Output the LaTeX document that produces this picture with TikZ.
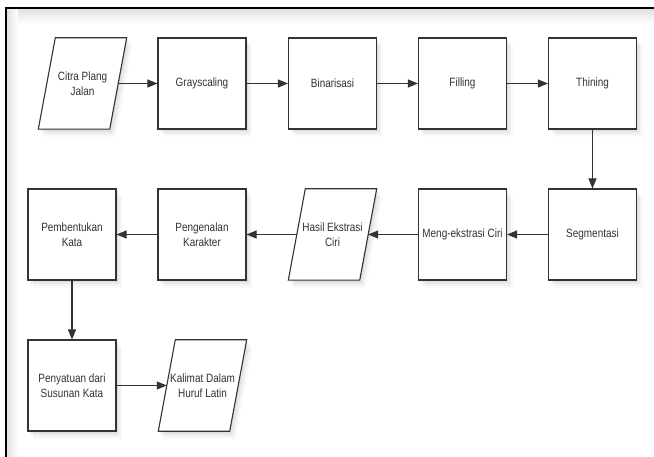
\documentclass[tikz,border=0pt]{standalone}
\usepackage{fontspec}
\setmainfont[FakeStretch=0.83]{Liberation Sans}
\usetikzlibrary{shadows,arrows.meta}
\definecolor{ink}{HTML}{333333}
\tikzset{
  x=1pt,y=-1pt,
  softshadow/.style={
    drop shadow={opacity=0.10,shadow xshift=1.5pt,shadow yshift=-2pt},
    drop shadow={opacity=0.08,shadow xshift=3pt,shadow yshift=-4pt},
    drop shadow={opacity=0.06,shadow xshift=4.5pt,shadow yshift=-6pt},
    drop shadow={opacity=0.04,shadow xshift=6pt,shadow yshift=-8pt}},
  box/.style={draw=ink,line width=1.1pt,fill=white,minimum width=88pt,minimum height=91pt,
    inner sep=1pt,align=center,text=ink,font=\fontsize{12}{15}\selectfont,softshadow},
  iobody/.style={draw=none,minimum width=71pt,minimum height=91pt,inner sep=1pt,
    align=center,text=ink,font=\fontsize{12}{15}\selectfont},
  ioshape/.style={draw=ink,line width=1.1pt,fill=white,softshadow},
  flow/.style={draw=ink,line width=1.1pt,-{Triangle[length=10pt,width=8pt]}},
}
\newcommand{\ioshape}[1]{%
  \path[ioshape] ([xshift=-8.5pt]#1.south west) -- ([xshift=-8.5pt]#1.south east)
    -- ([xshift=8.5pt]#1.north east) -- ([xshift=8.5pt]#1.north west) -- cycle;}
\begin{document}
\begin{tikzpicture}
\useasboundingbox (0,0) rectangle (654,457);
\fill[white] (0,0) rectangle (654,457);
% inner frame shading
\shade[top color=black!12,bottom color=white] (6,8) rectangle (654,24);
\shade[left color=black!12,right color=white] (6,8) rectangle (18,457);
\draw[black,line width=1.4pt] (654,8) coordinate (fr1) -- (6,8) coordinate (fr2) -- (6,457) coordinate (fr3);

% row 1
\node[iobody] (citra) at (82.5,83.5) {};
\ioshape{citra}
\node[iobody] at (citra) {Citra Plang\\Jalan};
\node[box] (gray) at (202,83.5) {Grayscaling};
\node[box] (bin) at (332.5,83.5) {Binarisasi};
\node[box] (fill) at (462.5,83.5) {Filling};
\node[box] (thin) at (592.5,83.5) {Thining};

% row 2
\node[box] (bent) at (72,234.5) {Pembentukan\\Kata};
\node[box] (kenal) at (202,234.5) {Pengenalan\\Karakter};
\node[iobody] (hasil) at (332.5,234.5) {};
\ioshape{hasil}
\node[iobody] at (hasil) {Hasil Ekstrasi\\Ciri};
\node[box] (meng) at (462.5,234.5) {Meng-ekstrasi Ciri};
\node[box] (seg) at (592.5,234.5) {Segmentasi};

% row 3
\node[box] (satu) at (72,385.5) {Penyatuan dari\\Susunan Kata};
\node[iobody] (kal) at (202.5,385.5) {};
\ioshape{kal}
\node[iobody] at (kal) {Kalimat Dalam\\Huruf Latin};

% connectors
\draw[flow] (citra) -- (gray);
\draw[flow] (gray) -- (bin);
\draw[flow] (bin) -- (fill);
\draw[flow] (fill) -- (thin);
\draw[flow] (thin) -- (seg);
\draw[flow] (seg) -- (meng);
\draw[flow] (meng) -- (hasil);
\draw[flow] (hasil) -- (kenal);
\draw[flow] (kenal) -- (bent);
\draw[flow] (bent) -- (satu);
\draw[flow] (satu) -- (kal);
\end{tikzpicture}
\end{document}
